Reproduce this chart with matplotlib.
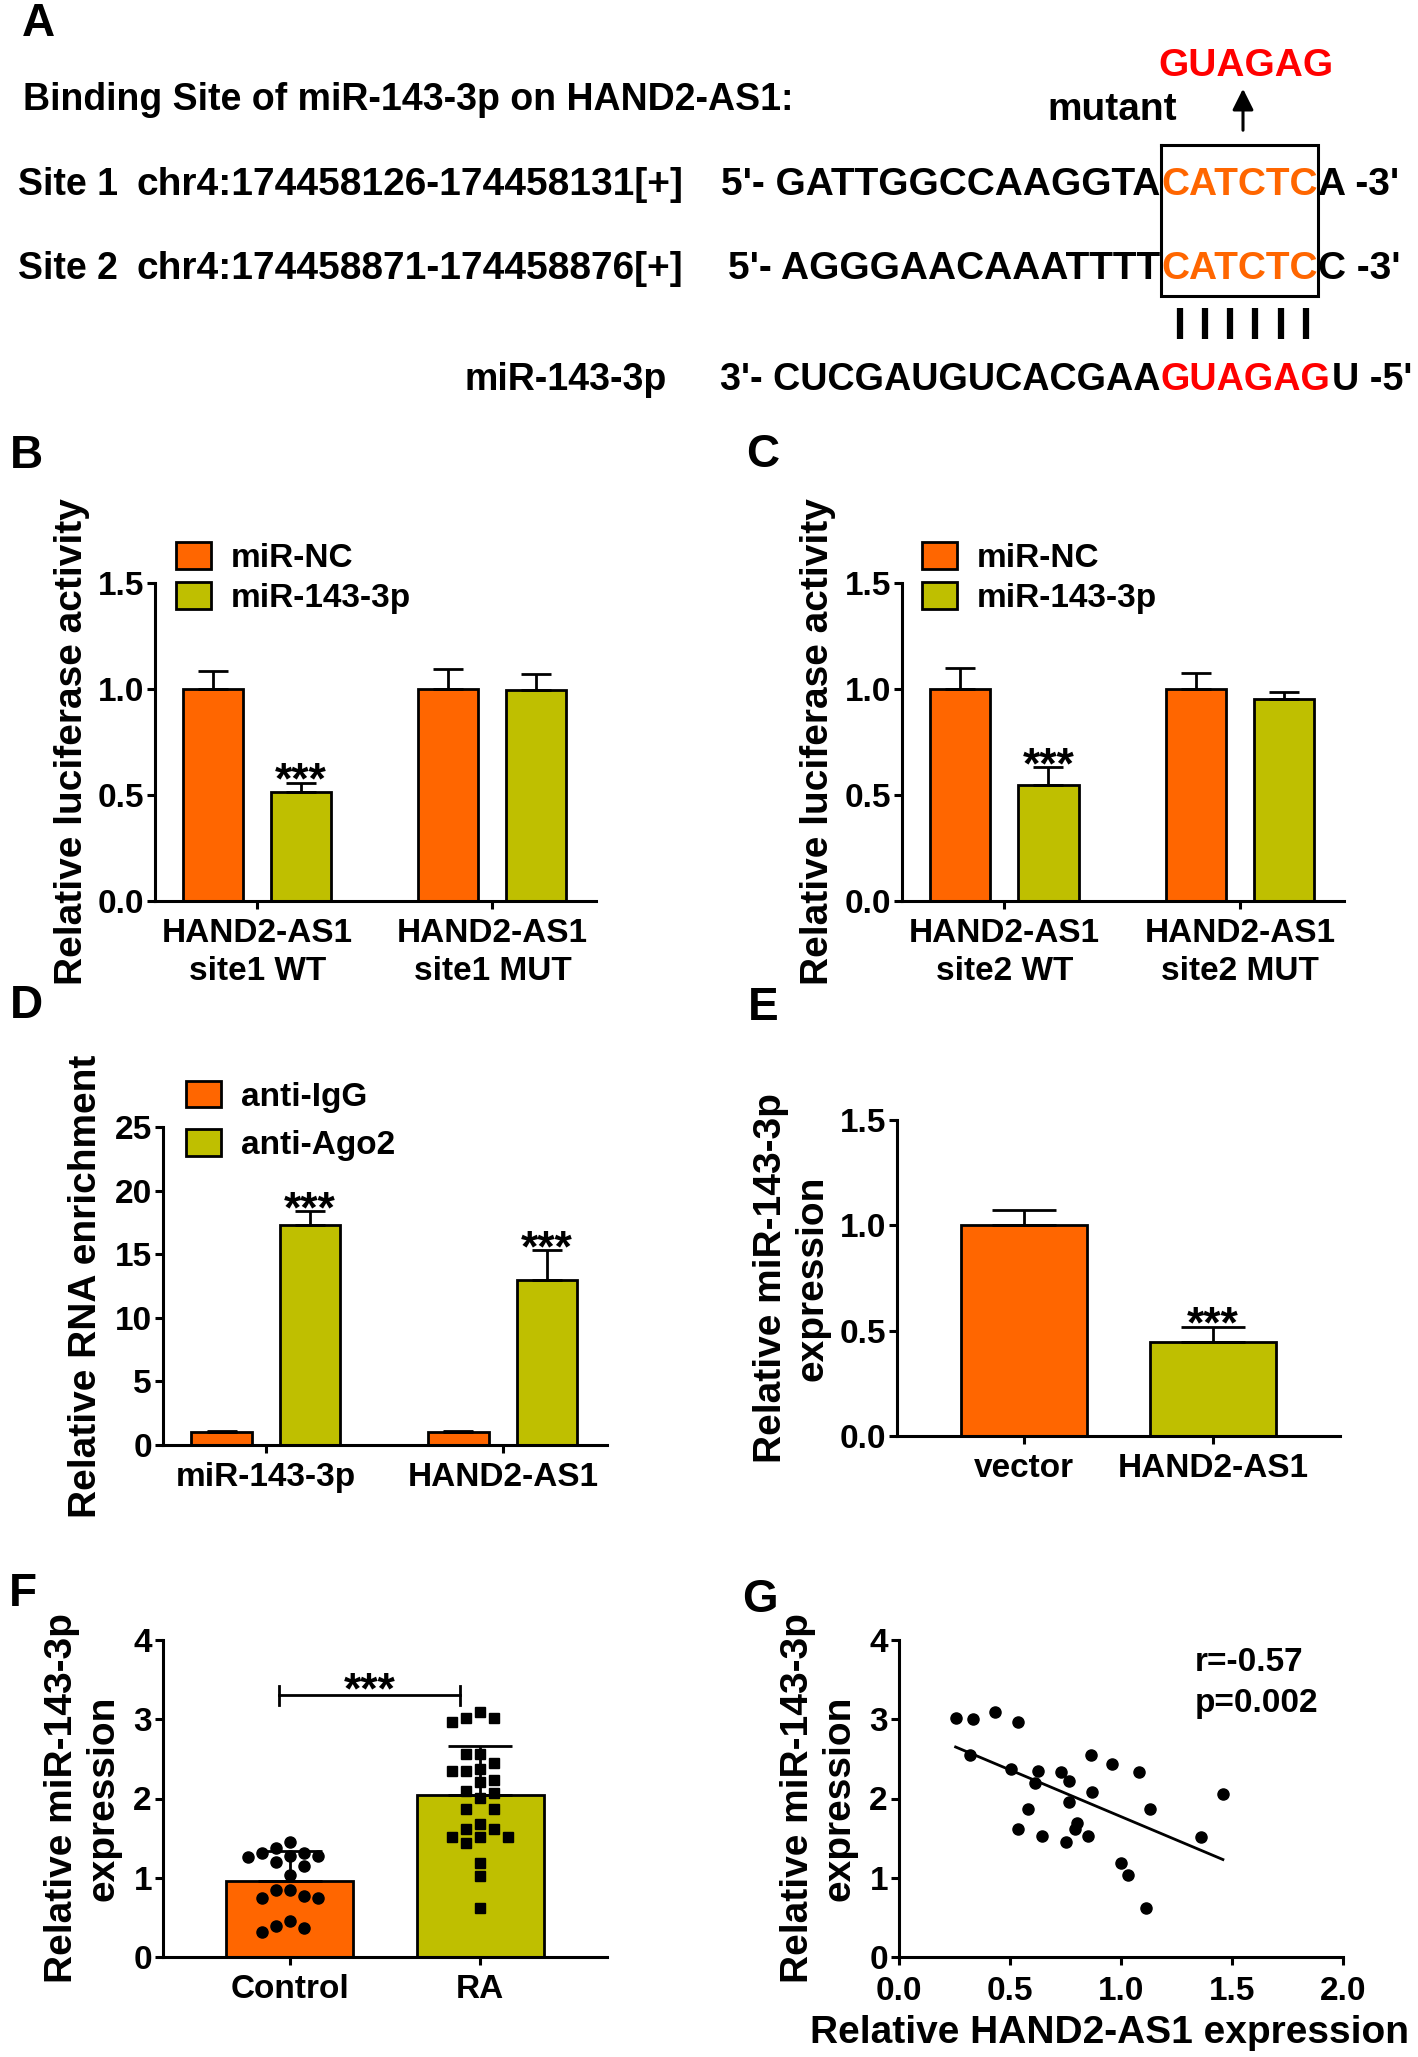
import numpy as np
import matplotlib
matplotlib.use('Agg')
import matplotlib.pyplot as plt

plt.rcParams['font.family'] = ['Liberation Sans', 'DejaVu Sans']
plt.rcParams['font.weight'] = 'bold'
plt.rcParams['axes.labelweight'] = 'bold'

W, H = 1418, 2057
ORANGE = '#FF6600'
OLIVE = '#BFBF00'

# ---------------- data ----------------
# B: luciferase, site 1
site1_groups = ['HAND2-AS1\nsite1 WT', 'HAND2-AS1\nsite1 MUT']
site1_nc = [1.00, 1.00]
site1_nc_err = [0.087, 0.093]
site1_mir = [0.515, 0.995]
site1_mir_err = [0.043, 0.075]

# C: luciferase, site 2
site2_groups = ['HAND2-AS1\nsite2 WT', 'HAND2-AS1\nsite2 MUT']
site2_nc = [1.00, 1.00]
site2_nc_err = [0.098, 0.075]
site2_mir = [0.547, 0.953]
site2_mir_err = [0.084, 0.031]

# D: RIP assay
rip_groups = ['miR-143-3p', 'HAND2-AS1']
rip_igg = [1.04, 1.04]
rip_igg_err = [0.08, 0.08]
rip_ago2 = [17.3, 13.0]
rip_ago2_err = [1.1, 2.3]

# E: overexpression
oe_groups = ['vector', 'HAND2-AS1']
oe_mean = [1.00, 0.446]
oe_err = [0.071, 0.073]

# F: tissue expression
tissue_groups = ['Control', 'RA']
control_vals = [1.38, 1.45, 1.31, 1.31, 1.20, 1.26, 1.27, 1.28, 1.15, 1.04,
                0.85, 0.75, 0.75, 0.77, 0.85, 0.39, 0.32, 0.37, 0.45]
ra_vals = [3.09, 3.02, 2.96, 3.02, 2.56, 2.45, 2.56, 2.37, 2.35, 2.35,
           2.23, 2.21, 2.09, 2.01, 2.07, 1.87, 1.87, 1.68, 1.62, 1.62,
           1.52, 1.52, 1.52, 1.44, 1.18, 1.02, 0.62]
tissue_mean = [0.956, 2.04]
tissue_sd = [0.385, 0.625]

# G: correlation
hand2_expr = [0.255, 0.333, 0.433, 0.535, 0.322, 0.504, 0.624, 0.731, 0.612, 0.765,
              0.863, 0.959, 1.082, 0.871, 0.765, 0.582, 1.131, 1.459, 0.535, 0.643,
              0.804, 0.792, 0.753, 0.853, 1.361, 1.002, 1.033, 1.112]
mir_expr = [3.01, 3.00, 3.09, 2.96, 2.55, 2.37, 2.35, 2.34, 2.19, 2.22,
            2.55, 2.43, 2.34, 2.08, 1.96, 1.87, 1.87, 2.06, 1.62, 1.53,
            1.69, 1.61, 1.45, 1.53, 1.51, 1.18, 1.03, 0.62]

fig = plt.figure(figsize=(W / 100, H / 100), dpi=100)

# background axes in pixel coordinates for panel A and panel letters
axA = fig.add_axes([0, 0, 1, 1])
axA.set_xlim(0, W)
axA.set_ylim(H, 0)
axA.axis('off')


def add_ax(l, t, r, b):
    ax = fig.add_axes([l / W, 1 - b / H, (r - l) / W, (b - t) / H])
    ax.px = (l, t, r, b)
    return ax


def style(ax):
    for s in ['top', 'right']:
        ax.spines[s].set_visible(False)
    for s in ['left', 'bottom']:
        ax.spines[s].set_linewidth(2.2)
    ax.tick_params(width=2.2, length=6, labelsize=24, direction='out')
    ax.tick_params(axis='y', pad=2)
    ax.tick_params(axis='x', pad=6)
    ax.patch.set_alpha(0)


def ylabel_at(ax, text, xc):
    l, t, r, b = ax.px
    ax.set_ylabel(text, fontsize=28, va='center', ha='center', linespacing=1.2)
    ax.yaxis.set_label_coords((xc - l) / (r - l), 0.5)


def stars(ax, x, top):
    ax.annotate('***', xy=(x, top), xytext=(0, -8), textcoords='offset points',
                ha='center', va='baseline', fontsize=32)


def grouped(ax, groups, a, a_err, b, b_err, names, star_idx, cap):
    x = np.arange(len(groups))
    bw, off = 0.255, 0.187
    zero = np.zeros(len(groups))
    h1 = ax.bar(x - off, a, bw, color=ORANGE, edgecolor='black', linewidth=2, label=names[0], zorder=2)
    h2 = ax.bar(x + off, b, bw, color=OLIVE, edgecolor='black', linewidth=2, label=names[1], zorder=2)
    ax.errorbar(x - off, a, yerr=[zero, a_err], fmt='none', ecolor='black',
                elinewidth=2, capsize=cap, capthick=2, zorder=3)
    ax.errorbar(x + off, b, yerr=[zero, b_err], fmt='none', ecolor='black',
                elinewidth=2, capsize=cap, capthick=2, zorder=3)
    for i in star_idx:
        stars(ax, x[i] + off, b[i] + b_err[i])
    ax.set_xticks(x)
    ax.set_xticklabels(groups)
    plt.setp(ax.get_xticklabels(), linespacing=1.3)
    ax.set_xlim(-0.434, len(groups) - 1 + 0.44)
    return h1, h2


def legend_at(ax, handles, x, y, spacing=0.25):
    ax.legend(handles=handles, loc='center left', bbox_to_anchor=(x / W, 1 - y / H),
              bbox_transform=fig.transFigure, frameon=False, fontsize=24,
              handlelength=1.05, handleheight=0.85, handletextpad=0.6,
              labelspacing=spacing, borderpad=0, borderaxespad=0)


# ---------------- panel A ----------------
fs = 28
axA.text(38, 24, 'A', fontsize=33, ha='center', va='center')
axA.text(23, 100, 'Binding Site of miR-143-3p on HAND2-AS1:', fontsize=27, ha='left', va='center')
axA.text(1246, 66, 'GUAGAG', fontsize=fs, color='#FF0000', ha='center', va='center')
axA.text(1112, 110, 'mutant', fontsize=fs, ha='center', va='center')
axA.annotate('', xy=(1243, 86), xytext=(1243, 133),
             arrowprops=dict(arrowstyle='-|>', lw=2.2, color='black', mutation_scale=32))


def seq_row(y, prefix, core, core_color, suffix, size=fs, xsplit=1160):
    t1 = axA.text(xsplit, y, prefix, fontsize=size, ha='right', va='center')
    t2 = axA.annotate(core, xy=(1, 0), xycoords=t1, xytext=(1, 0), textcoords='offset pixels',
                      ha='left', va='bottom', fontsize=size, color=core_color)
    axA.annotate(suffix, xy=(1, 0), xycoords=t2, xytext=(1, 0), textcoords='offset pixels',
                 ha='left', va='bottom', fontsize=size)
    return t2


axA.text(18, 185, 'Site 1', fontsize=27, ha='left', va='center')
axA.text(137, 185, 'chr4:174458126-174458131[+]', fontsize=28, ha='left', va='center')
core1 = seq_row(185, "5'- GATTGGCCAAGGTA", 'CATCTC', ORANGE, "A -3'")

axA.text(18, 269, 'Site 2', fontsize=27, ha='left', va='center')
axA.text(137, 269, 'chr4:174458871-174458876[+]', fontsize=28, ha='left', va='center')
seq_row(269, "5'- AGGGAACAAATTTT", 'CATCTC', ORANGE, "C -3'")

axA.text(667, 380, 'miR-143-3p', fontsize=27, ha='right', va='center')
seq_row(380, "3'- CUCGAUGUCACGAA", 'GUAGAG', '#FF0000', "U -5'", size=27.2)

# box around the seed region, sized from the rendered seed text
fig.canvas.draw()
bb = core1.get_window_extent().transformed(axA.transData.inverted())
bx0, bx1 = min(bb.x0, bb.x1) - 0.5, max(bb.x0, bb.x1) + 0.5
axA.plot([bx0, bx1, bx1, bx0, bx0], [145, 145, 296, 296, 145], color='black', lw=2.2,
         solid_joinstyle='miter')
axA.vlines(np.linspace(bx0 + 19, bx1 - 12, 6), 308, 339, color='black', lw=4.5)

# panel letters
for letter, (lx, ly) in {'B': (26, 456), 'C': (763, 455), 'D': (26, 1006),
                         'E': (763, 1008), 'F': (23, 1594), 'G': (760, 1600)}.items():
    axA.text(lx, ly, letter, fontsize=33, ha='center', va='center')

# ---------------- panel B ----------------
axB = add_ax(155, 583, 596, 901)
style(axB)
hb = grouped(axB, site1_groups, site1_nc, site1_nc_err, site1_mir, site1_mir_err,
             ['miR-NC', 'miR-143-3p'], [0], 10.8)
axB.set_ylim(0, 1.5)
axB.set_yticks([0, 0.5, 1.0, 1.5])
axB.set_yticklabels(['0.0', '0.5', '1.0', '1.5'])
ylabel_at(axB, 'Relative luciferase activity', 72)
legend_at(axB, list(hb), 176, 578)

# ---------------- panel C ----------------
axC = add_ax(902, 583, 1344, 901)
style(axC)
hc = grouped(axC, site2_groups, site2_nc, site2_nc_err, site2_mir, site2_mir_err,
             ['miR-NC', 'miR-143-3p'], [0], 10.8)
axC.set_ylim(0, 1.5)
axC.set_yticks([0, 0.5, 1.0, 1.5])
axC.set_yticklabels(['0.0', '0.5', '1.0', '1.5'])
ylabel_at(axC, 'Relative luciferase activity', 818)
legend_at(axC, list(hc), 922, 578)

# ---------------- panel D ----------------
axD = add_ax(163, 1127, 607, 1445)
style(axD)
hd = grouped(axD, rip_groups, rip_igg, rip_igg_err, rip_ago2, rip_ago2_err,
             ['anti-IgG', 'anti-Ago2'], [0, 1], 10.8)
axD.set_ylim(0, 25)
axD.set_yticks([0, 5, 10, 15, 20, 25])
ylabel_at(axD, 'Relative RNA enrichment', 86)
legend_at(axD, list(hd), 186, 1121, spacing=0.5)

# ---------------- panel E ----------------
axE = add_ax(897, 1120, 1340, 1436)
style(axE)
xe = np.arange(len(oe_groups))
axE.bar(xe, oe_mean, 0.667, color=[ORANGE, OLIVE], edgecolor='black', linewidth=2, zorder=2)
axE.errorbar(xe, oe_mean, yerr=[np.zeros(2), oe_err], fmt='none', ecolor='black',
             elinewidth=2, capsize=23, capthick=2, zorder=3)
stars(axE, xe[1], oe_mean[1] + oe_err[1])
axE.set_xticks(xe)
axE.set_xticklabels(oe_groups)
axE.set_xlim(-0.672, 1.672)
axE.set_ylim(0, 1.5)
axE.set_yticks([0, 0.5, 1.0, 1.5])
axE.set_yticklabels(['0.0', '0.5', '1.0', '1.5'])
ylabel_at(axE, 'Relative miR-143-3p\nexpression', 792)

# ---------------- panel F ----------------
axF = add_ax(163, 1640, 607, 1957)
style(axF)


def swarm(vals, ypx, xpx, step=14.0, dist=12.0):
    vals = np.asarray(vals, dtype=float)
    order = np.argsort(vals)[::-1]
    placed = []
    offs = np.zeros(len(vals))
    for i in order:
        y = vals[i] * ypx
        k = 0
        found = None
        while found is None:
            for c in ([0] if k == 0 else [-k, k]):
                x = c * step
                if all((x - px) ** 2 + (y - py) ** 2 >= dist ** 2 for px, py in placed):
                    found = x
                    break
            k += 1
        placed.append((found, y))
        offs[i] = found / xpx
    return offs


xf = np.arange(len(tissue_groups))
axF.bar(xf, tissue_mean, 0.668, color=[ORANGE, OLIVE], edgecolor='black', linewidth=2, zorder=2)
axF.errorbar(xf, tissue_mean, yerr=[np.zeros(2), tissue_sd], fmt='none', ecolor='black',
             elinewidth=2, capsize=23, capthick=2, zorder=3)
ypx, xpx = 317 / 4.0, 190.0
axF.plot(xf[0] + swarm(control_vals, ypx, xpx), control_vals, 'o', color='black',
         ms=8, zorder=4, clip_on=False)
axF.plot(xf[1] + swarm(ra_vals, ypx, xpx), ra_vals, 's', color='black',
         ms=7.5, zorder=4, clip_on=False)
# significance bracket
axF.plot([-0.058, 0.895], [3.30, 3.30], color='black', lw=2)
axF.plot([-0.058, -0.058], [3.18, 3.42], color='black', lw=2)
axF.plot([0.895, 0.895], [3.18, 3.42], color='black', lw=2)
axF.annotate('***', xy=(0.42, 3.30), xytext=(0, -6), textcoords='offset points',
             ha='center', va='baseline', fontsize=32)
axF.set_xticks(xf)
axF.set_xticklabels(tissue_groups)
axF.set_xlim(-0.668, 1.668)
axF.set_ylim(0, 4)
axF.set_yticks([0, 1, 2, 3, 4])
ylabel_at(axF, 'Relative miR-143-3p\nexpression', 83)

# ---------------- panel G ----------------
axG = add_ax(899, 1640, 1343, 1957)
style(axG)
axG.tick_params(axis='x', pad=8)
axG.plot(hand2_expr, mir_expr, 'o', color='black', ms=8, zorder=3)
slope, intercept = np.polyfit(hand2_expr, mir_expr, 1)
xl = np.array([min(hand2_expr), max(hand2_expr)])
axG.plot(xl, slope * xl + intercept, color='black', lw=2)
axG.text(1.33, 3.71, 'r=-0.57', fontsize=24, ha='left', va='center')
axG.text(1.33, 3.20, 'p=0.002', fontsize=24, ha='left', va='center')
axG.set_xlim(0, 2)
axG.set_ylim(0, 4)
axG.set_xticks([0, 0.5, 1.0, 1.5, 2.0])
axG.set_xticklabels(['0.0', '0.5', '1.0', '1.5', '2.0'])
axG.set_yticks([0, 1, 2, 3, 4])
ylabel_at(axG, 'Relative miR-143-3p\nexpression', 819)
axG.set_xlabel('Relative HAND2-AS1 expression', fontsize=28, va='center')
axG.xaxis.set_label_coords(0.475, -(2033 - 1957) / 317)

fig.savefig('out.png', dpi=100)
